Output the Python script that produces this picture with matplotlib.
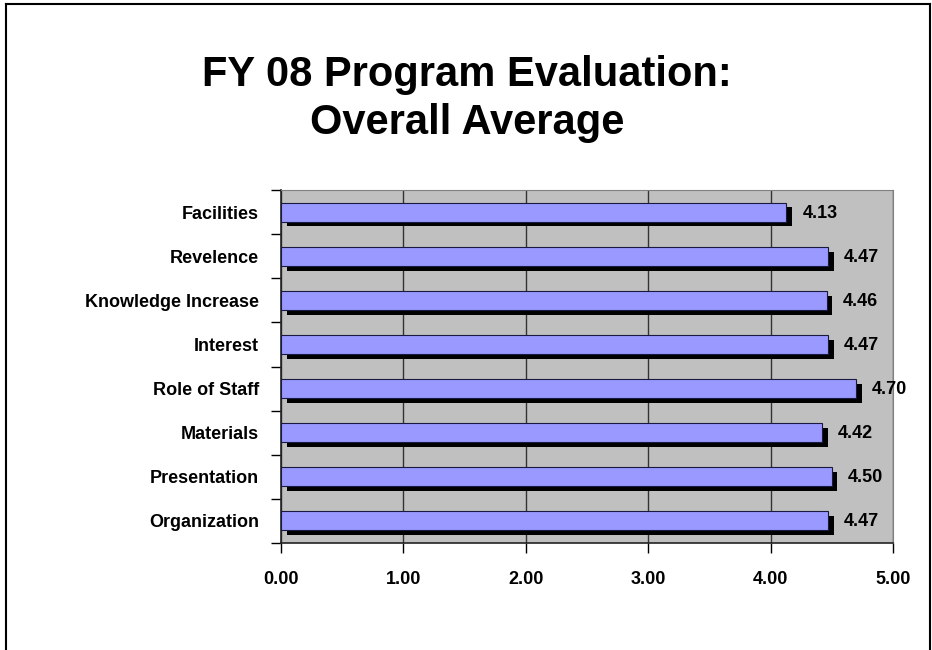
import matplotlib
matplotlib.use('Agg')
import matplotlib.pyplot as plt
import matplotlib.patheffects as pe
from matplotlib.lines import Line2D

categories = ['Organization', 'Presentation', 'Materials', 'Role of Staff',
              'Interest', 'Knowledge Increase', 'Revelence', 'Facilities']
scores = [4.47, 4.50, 4.42, 4.70, 4.47, 4.46, 4.47, 4.13]
x_ticks = [0, 1, 2, 3, 4, 5]
title_lines = ['FY 08 Program Evaluation:', 'Overall Average']

plt.rcParams['font.family'] = ['Liberation Sans', 'DejaVu Sans']

fig = plt.figure(figsize=(9.32, 6.5), dpi=100)
ax = fig.add_axes([0.3015, 0.1646, 0.6566, 0.5431])
ax.set_facecolor('#C0C0C0')

# outer chart border (bottom runs off the picture)
for xs, ys in [([0.0065, 0.0065], [0.0, 0.994]),
               ([0.0065, 0.998], [0.994, 0.994]),
               ([0.998, 0.998], [0.994, 0.0])]:
    fig.add_artist(Line2D(xs, ys, transform=fig.transFigure, color='black', lw=1.5))

ypos = range(len(categories))
bars = ax.barh(ypos, scores, height=0.43, color='#9999FF', edgecolor='#1a1a40',
               linewidth=0.8, zorder=3)
for b in bars:
    b.set_path_effects([pe.SimplePatchShadow(offset=(4, -3.5), shadow_rgbFace='black', alpha=1.0),
                        pe.Normal()])
    ax.text(b.get_width() + 0.13, b.get_y() + b.get_height() / 2 - 0.125, f'{b.get_width():.2f}',
            va='baseline', ha='left', fontsize=13, fontweight='bold', zorder=4)

ax.set_xlim(0, 5)
ax.set_ylim(-0.5, len(categories) - 0.5)
ax.set_xticks(x_ticks)
ax.set_xticklabels([f'{v:.2f}' for v in x_ticks], fontsize=13, fontweight='bold')
ax.set_yticks([i - 0.5 for i in range(len(categories) + 1)])
ax.set_yticklabels([])
ax.set_yticks(list(ypos), minor=True)
ax.set_yticklabels(categories, minor=True, fontsize=13, fontweight='bold')
ax.tick_params(axis='y', which='minor', length=0, pad=16)
ax.tick_params(axis='y', which='major', length=7, width=1, direction='out')
ax.tick_params(axis='x', length=7, width=1, direction='out', pad=13)
ax.xaxis.grid(True, color='#333333', lw=1)
ax.set_axisbelow(True)
for s in ['top', 'right']:
    ax.spines[s].set_color('#808080')
for s in ['left', 'bottom']:
    ax.spines[s].set_color('#222222')
    ax.spines[s].set_linewidth(1.2)

for line, yb in zip(title_lines, [1 - 86 / 650, 1 - 134 / 650]):
    fig.text(0.501, yb, line, ha='center', va='baseline', fontsize=30, fontweight='bold')

fig.savefig('out.png', dpi=100)
